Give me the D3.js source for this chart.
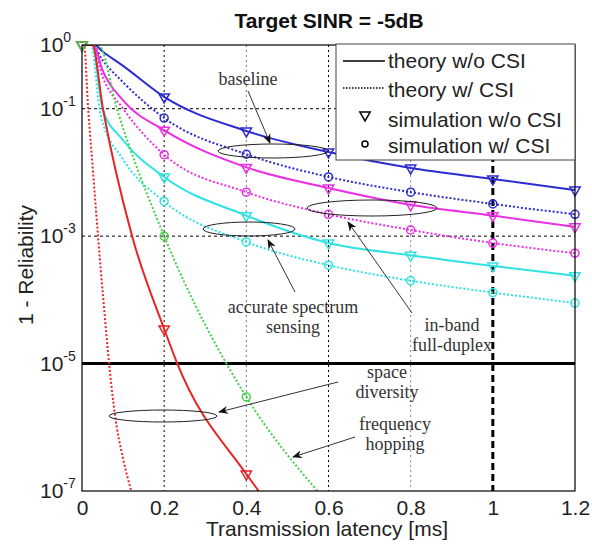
<!DOCTYPE html>
<html>
<head>
<meta charset="utf-8">
<script src="https://cdn.jsdelivr.net/npm/d3@7"></script>
<style>
  body { margin: 0; background: #fff; }
  svg { display: block; }
</style>
</head>
<body>
<svg id="chart"></svg>
<script>
// latency points where the simulation markers sit
const simT = [0.2, 0.4, 0.6, 0.8, 1.0, 1.2];

// theory curves, [latency ms, 1 - reliability]
const blueSolid = [[0,1],[0.03,1],[0.05,0.79],[0.1,0.47],[0.2,0.153],[0.4,0.0447],[0.6,0.0209],[0.8,0.0117],[1.0,0.0079],[1.2,0.0053]];
const blueDot = [[0,1],[0.025,1],[0.05,0.58],[0.1,0.26],[0.2,0.0714],[0.4,0.0193],[0.6,0.0085],[0.8,0.0049],[1.0,0.0032],[1.2,0.0022]];
const magSolid = [[0,1],[0.028,1],[0.05,0.4],[0.1,0.135],[0.2,0.046],[0.4,0.012],[0.6,0.0057],[0.8,0.0031],[1.0,0.0021],[1.2,0.0014]];
const magDot = [[0,1],[0.025,1],[0.05,0.32],[0.1,0.1],[0.2,0.019],[0.4,0.0049],[0.6,0.0022],[0.8,0.00125],[1.0,0.00078],[1.2,0.00054]];
const cyanSolid = [[0,1],[0.025,1],[0.05,0.1],[0.1,0.032],[0.2,0.0085],[0.4,0.0021],[0.6,0.00078],[0.8,0.0005],[1.0,0.00034],[1.2,0.00024]];
const cyanDot = [[0,1],[0.022,1],[0.045,0.08],[0.1,0.016],[0.2,0.0035],[0.4,0.00081],[0.6,0.00035],[0.8,0.0002],[1.0,0.00013],[1.2,0.000089]];
const greenDot = [[0,1],[0.04,1],[0.085,0.1],[0.2,0.001],[0.4,3e-6],[0.573,1e-7]];
const redSolid = [[0,1],[0.025,1],[0.051,0.1],[0.122,1e-3],[0.2,3.5e-5],[0.232,1e-5],[0.4,1.85e-7],[0.43,1e-7]];
const redDot = [[0,1],[0.005,1],[0.015,0.1],[0.027,0.01],[0.039,1e-3],[0.052,1e-4],[0.066,1e-5],[0.08,1.6e-6],[0.1,3.2e-7],[0.12,1e-7]];

// simulation markers (values at simT)
const blueTri = [0.153,0.0447,0.0209,0.0117,0.0079,0.0053];
const blueCirc = [0.0714,0.0193,0.0085,0.0049,0.0032,0.0022];
const magTri = [0.046,0.012,0.0057,0.0031,0.0021,0.0014];
const magCirc = [0.019,0.0049,0.0022,0.00125,0.00078,0.00054];
const cyanTri = [0.0085,0.0021,0.00078,0.0005,0.00034,0.00024];
const cyanCirc = [0.0035,0.00081,0.00035,0.0002,0.00013,0.000089];
const greenCirc = [0.001,3e-6];
const redTri = [3.5e-5,1.85e-7];

const xTicks = [0, 0.2, 0.4, 0.6, 0.8, 1, 1.2];
const yTickExp = [0, -1, -3, -5, -7];
const legendLabels = ["theory w/o CSI", "theory w/ CSI", "simulation w/o CSI", "simulation w/ CSI"];

const W = 592, H = 544;
const box = {left: 82, right: 575, top: 45, bottom: 491};
const col = {blue: "#2b2bd0", mag: "#ec2ee4", cyan: "#30e2e2", green: "#44d044", red: "#e82424"};
const sans = "'Liberation Sans', Arial, sans-serif";
const serif = "'Liberation Serif', 'Times New Roman', serif";

const svg = d3.select("#chart").attr("width", W).attr("height", H);

const x = d3.scaleLinear().domain([0, 1.2]).range([box.left, box.right]);
const y = d3.scaleLog().domain([1e-7, 1]).range([box.bottom, box.top]);

svg.append("defs").append("clipPath").attr("id", "clip")
  .append("rect").attr("x", box.left).attr("y", box.top)
  .attr("width", box.right - box.left).attr("height", box.bottom - box.top);

// grid
const grid = svg.append("g");
[[0.2, "#000"], [0.4, "#777"], [0.6, "#000"], [0.8, "#888"]].forEach(([t, c]) => {
  grid.append("line").attr("x1", x(t)).attr("x2", x(t)).attr("y1", box.top).attr("y2", box.bottom)
    .attr("stroke", c).attr("stroke-width", 1).attr("stroke-dasharray", "2,3");
});
[1e-1, 1e-3].forEach(v => {
  grid.append("line").attr("x1", box.left).attr("x2", box.right).attr("y1", y(v)).attr("y2", y(v))
    .attr("stroke", "#000").attr("stroke-width", 1).attr("stroke-dasharray", "3,3");
});
grid.append("line").attr("x1", x(1)).attr("x2", x(1)).attr("y1", box.top).attr("y2", box.bottom)
  .attr("stroke", "#000").attr("stroke-width", 3).attr("stroke-dasharray", "7,4");
grid.append("line").attr("x1", box.left).attr("x2", box.right).attr("y1", y(1e-5)).attr("y2", y(1e-5))
  .attr("stroke", "#000").attr("stroke-width", 3);

// curves
const line = d3.line().x(d => x(d[0])).y(d => y(d[1])).curve(d3.curveMonotoneX);
const plot = svg.append("g").attr("clip-path", "url(#clip)");
const curves = [
  [blueSolid, col.blue, false], [blueDot, col.blue, true],
  [magSolid, col.mag, false], [magDot, col.mag, true],
  [cyanSolid, col.cyan, false], [cyanDot, col.cyan, true],
  [greenDot, col.green, true],
  [redSolid, col.red, false], [redDot, col.red, true]
];
curves.forEach(([data, c, dotted]) => {
  plot.append("path").datum(data).attr("d", line)
    .attr("fill", "none").attr("stroke", c).attr("stroke-width", 2)
    .attr("stroke-dasharray", dotted ? "2,2" : null);
});

// markers
const triPath = d3.symbol().type(d3.symbolTriangle).size(46)();
function drawTri(g, cx, cy, c) {
  g.append("path").attr("d", triPath)
    .attr("transform", `translate(${cx},${cy}) rotate(180)`)
    .attr("fill", "none").attr("stroke", c).attr("stroke-width", 1.5);
}
function drawCirc(g, cx, cy, c) {
  g.append("circle").attr("cx", cx).attr("cy", cy).attr("r", 4)
    .attr("fill", "none").attr("stroke", c).attr("stroke-width", 1.5);
}
const marks = svg.append("g");
[[blueTri, blueCirc, col.blue], [magTri, magCirc, col.mag], [cyanTri, cyanCirc, col.cyan],
 [redTri, [], col.red], [[], greenCirc, col.green]].forEach(([tri, circ, c]) => {
  drawTri(marks, x(0), y(1), c);
  tri.forEach((v, i) => drawTri(marks, x(simT[i]), y(v), c));
  circ.forEach((v, i) => drawCirc(marks, x(simT[i]), y(v), c));
});

// frame
svg.append("rect").attr("x", box.left).attr("y", box.top)
  .attr("width", box.right - box.left).attr("height", box.bottom - box.top)
  .attr("fill", "none").attr("stroke", "#000").attr("stroke-width", 1.2);

// x axis labels
const xAxis = d3.axisBottom(x).tickValues(xTicks).tickSize(0)
  .tickFormat(d => d3.format("")(d));
svg.append("g").attr("transform", `translate(0,${box.bottom})`).call(xAxis)
  .call(g => g.select(".domain").remove())
  .selectAll("text").attr("y", 24).attr("dy", 0)
  .attr("font-family", sans).attr("font-size", 21).attr("fill", "#222");

// y axis labels 10^n
const yl = svg.append("g");
yTickExp.forEach(e => {
  const t = yl.append("text").attr("x", 40).attr("y", y(Math.pow(10, e)) + 7)
    .attr("font-family", sans).attr("fill", "#222");
  t.append("tspan").attr("font-size", 21).text("10");
  t.append("tspan").attr("font-size", 14).attr("dy", -10).text(e);
});

// titles
svg.append("text").attr("x", 329).attr("y", 28).attr("text-anchor", "middle")
  .attr("font-family", sans).attr("font-weight", "bold").attr("font-size", 21).attr("fill", "#111")
  .text("Target SINR = -5dB");
svg.append("text").attr("x", 327).attr("y", 536).attr("text-anchor", "middle")
  .attr("font-family", sans).attr("font-size", 21).attr("fill", "#222")
  .text("Transmission latency [ms]");
svg.append("text").attr("transform", "translate(33,265) rotate(-90)").attr("text-anchor", "middle")
  .attr("font-family", sans).attr("font-size", 21).attr("fill", "#222")
  .text("1 - Reliability");

// legend
const lg = svg.append("g");
lg.append("rect").attr("x", 336).attr("y", 44).attr("width", 239).attr("height", 116)
  .attr("fill", "#fff").attr("stroke", "#444").attr("stroke-width", 1);
const rowY = [61, 88, 115, 144];
const rowBase = [68, 97, 127, 153];
legendLabels.forEach((s, i) => {
  lg.append("text").attr("x", 388).attr("y", rowBase[i]).attr("font-family", sans)
    .attr("font-size", 21).attr("fill", "#222").text(s);
});
lg.append("line").attr("x1", 343).attr("x2", 385).attr("y1", rowY[0]).attr("y2", rowY[0])
  .attr("stroke", "#000").attr("stroke-width", 1.3);
lg.append("line").attr("x1", 343).attr("x2", 385).attr("y1", rowY[1]).attr("y2", rowY[1])
  .attr("stroke", "#000").attr("stroke-width", 1.3).attr("stroke-dasharray", "1.5,1.5");
drawTri(lg, 365, rowY[2], "#000");
lg.append("circle").attr("cx", 365).attr("cy", rowY[3]).attr("r", 3)
  .attr("fill", "none").attr("stroke", "#000").attr("stroke-width", 1.5);

// annotations
const ann = svg.append("g");
ann.append("defs").append("marker").attr("id", "arr").attr("viewBox", "0 0 10 10")
  .attr("refX", 9).attr("refY", 5).attr("markerWidth", 10).attr("markerHeight", 10)
  .attr("markerUnits", "userSpaceOnUse").attr("orient", "auto")
  .append("path").attr("d", "M0,1 L10,5 L0,9 L3,5 Z").attr("fill", "#111");

const ellipses = [[273, 151, 55, 7], [249, 229, 46, 7], [372, 208, 65, 8], [163, 416, 54, 6]];
ellipses.forEach(([cx, cy, rx, ry]) => {
  ann.append("ellipse").attr("cx", cx).attr("cy", cy).attr("rx", rx).attr("ry", ry)
    .attr("fill", "none").attr("stroke", "#222").attr("stroke-width", 1);
});
const arrows = [[248, 91, 270, 143], [295, 292, 268, 240], [412, 313, 348, 222], [338, 382, 219, 412], [355, 437, 293, 457]];
arrows.forEach(([x1, y1, x2, y2]) => {
  ann.append("line").attr("x1", x1).attr("y1", y1).attr("x2", x2).attr("y2", y2)
    .attr("stroke", "#333").attr("stroke-width", 1).attr("marker-end", "url(#arr)");
});
const notes = [
  [248, 85, ["baseline"]],
  [293, 313, ["accurate spectrum", "sensing"]],
  [452, 331, ["in-band", "full-duplex"]],
  [387, 378, ["space", "diversity"]],
  [395, 430, ["frequency", "hopping"]]
];
notes.forEach(([cx, by, lines]) => {
  lines.forEach((s, i) => {
    ann.append("text").attr("x", cx).attr("y", by + i * 20).attr("text-anchor", "middle")
      .attr("font-family", serif).attr("font-size", 18).attr("fill", "#333").text(s);
  });
});
</script>
</body>
</html>
